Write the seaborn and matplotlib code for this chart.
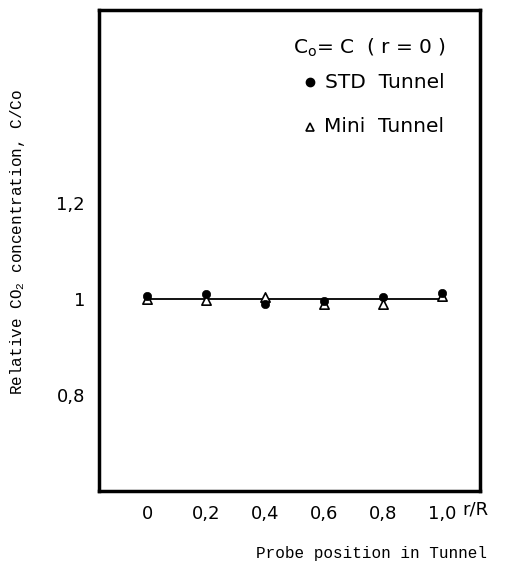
import matplotlib
matplotlib.use("Agg")
import matplotlib.pyplot as plt
import seaborn as sns
import pandas as pd

r_pos = [0.0, 0.2, 0.4, 0.6, 0.8, 1.0]
std_tunnel = [1.005, 1.010, 0.990, 0.995, 1.003, 1.012]
mini_tunnel = [1.000, 0.998, 1.003, 0.990, 0.990, 1.005]
fit_x = [0.0, 1.0]
fit_y = [1.0, 1.0]
xtick_vals = [0.0, 0.2, 0.4, 0.6, 0.8, 1.0]
xtick_labels = ["0", "0,2", "0,4", "0,6", "0,8", "1,0"]
ytick_vals = [0.8, 1.0, 1.2]
ytick_labels = ["0,8", "1", "1,2"]

sns.set_theme(style="white")
plt.rcParams["font.family"] = ["DejaVu Sans"]

df_std = pd.DataFrame({"r": r_pos, "c": std_tunnel})
df_mini = pd.DataFrame({"r": r_pos, "c": mini_tunnel})
df_fit = pd.DataFrame({"r": fit_x, "c": fit_y})

fig = plt.figure(figsize=(5.10, 5.69), dpi=100)
ax = fig.add_axes([0.194, 0.137, 0.747, 0.845])

sns.lineplot(data=df_fit, x="r", y="c", ax=ax, color="black", linewidth=1.3)
sns.scatterplot(data=df_mini, x="r", y="c", ax=ax, marker="^", s=45,
                facecolor="white", edgecolor="black", linewidth=1.2, zorder=3)
sns.scatterplot(data=df_std, x="r", y="c", ax=ax, marker="o", s=36,
                color="black", edgecolor="black", zorder=4)

ax.set_xlim(-0.163, 1.129)
ax.set_ylim(0.60, 1.60)
ax.set_xticks(xtick_vals)
ax.set_xticklabels(xtick_labels)
ax.set_yticks(ytick_vals)
ax.set_yticklabels(ytick_labels)
ax.tick_params(axis="both", direction="in", length=4, width=1.5, colors="black",
               labelsize=13, pad=10)
for s in ax.spines.values():
    s.set_visible(True)
    s.set_color("black")
    s.set_linewidth(2.5)
ax.set_xlabel("")
ax.set_ylabel("")

# legend-like annotation
ax.text(0.509, 0.921, "C$_\\mathregular{o}$= C  ( r = 0 )", transform=ax.transAxes,
        fontsize=14.5, ha="left", va="center", color="black")
ax.plot([0.553], [1.45], marker="o", color="black", markersize=6)
ax.text(0.605, 1.45, "STD  Tunnel", fontsize=14.5, ha="left", va="center", color="black")
ax.plot([0.553], [1.358], marker="^", markerfacecolor="white", markeredgecolor="black",
        markersize=6, markeredgewidth=1.2)
ax.text(0.600, 1.358, "Mini  Tunnel", fontsize=14.5, ha="left", va="center", color="black")

fig.text(0.906, 0.104, "r/R", fontsize=13, ha="left", va="center", color="black")
fig.text(0.955, 0.028, "Probe position in Tunnel", fontsize=11.5, ha="right", va="center",
         family="Liberation Mono", color="black")
fig.text(0.035, 0.305, "Relative CO$_\\mathregular{2}$ concentration, C/Co", fontsize=11.5,
         rotation=90, ha="center", va="bottom", family="Liberation Mono", color="black")

fig.savefig("out.png", dpi=100, facecolor="white")
